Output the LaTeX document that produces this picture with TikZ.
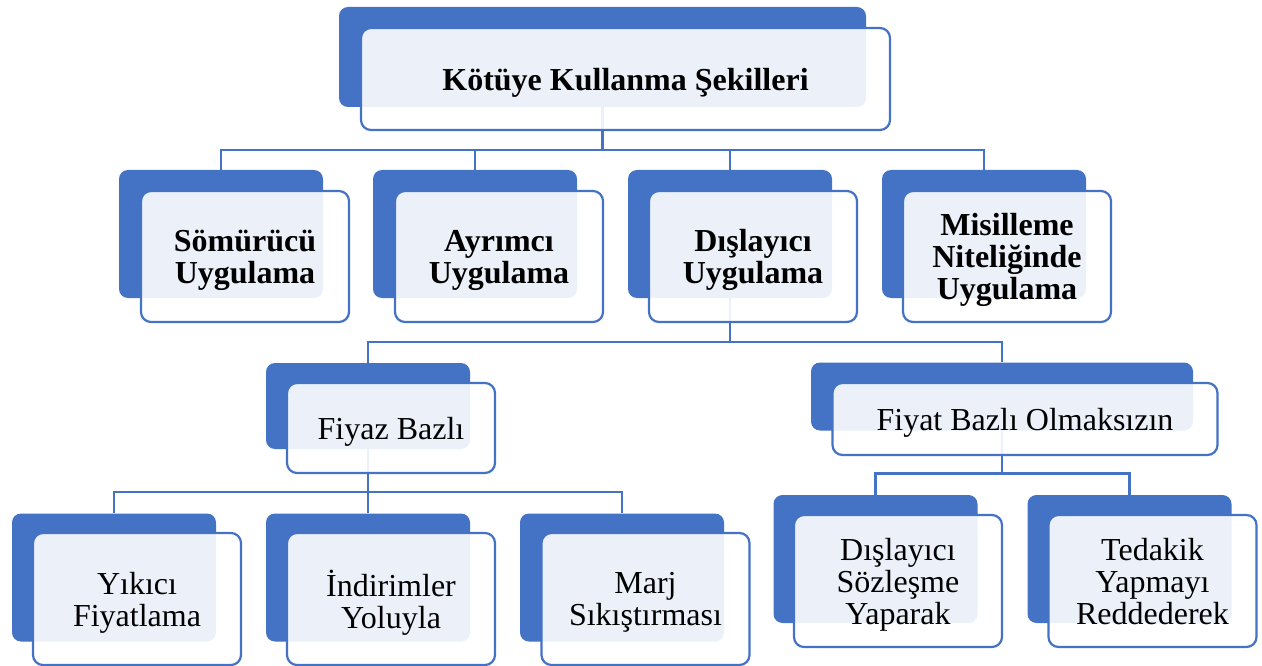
\documentclass[tikz,border=0pt]{standalone}
\usepackage{fontspec}
\setmainfont{Liberation Serif}
\definecolor{boxblue}{HTML}{4472C4}
\tikzset{
  backbox/.style={fill=boxblue, rounded corners=9pt, minimum width=204pt, minimum height=128pt, inner sep=0pt},
  frontbox/.style={draw=boxblue, line width=2.2pt, fill=white, fill opacity=0.9, text opacity=1, rounded corners=10pt, minimum width=208pt, minimum height=131pt, inner sep=0pt, text depth=0pt, align=center, font=\fontsize{32}{32}\selectfont},
  headtext/.style={font=\fontsize{32}{32}\selectfont\bfseries},
  link/.style={draw=boxblue, line width=2.5pt},
}

\begin{document}
\begin{tikzpicture}[x=1pt,y=-1pt]
\useasboundingbox (0,0) rectangle (1262,666);
% back boxes
\node[backbox, minimum width=527pt, minimum height=100pt] (kotuye) at (602.5,57) {};
\node[backbox] (somurucu) at (221,234) {};
\node[backbox] (ayrimci) at (475,234) {};
\node[backbox] (dislayici) at (730,234) {};
\node[backbox] (misilleme) at (984,234) {};
\node[backbox, minimum height=86pt] (fiyaz) at (368,406) {};
\node[backbox, minimum width=382pt, minimum height=68pt] (olmaksizin) at (1002,396.5) {};
\node[backbox] (yikici) at (114,577.5) {};
\node[backbox] (indirim) at (368,577.5) {};
\node[backbox] (marj) at (622,577.5) {};
\node[backbox] (sozlesme) at (875.5,559) {};
\node[backbox] (tedakik) at (1129.5,559) {};
% connectors
\draw[link] (kotuye.south) -- ++(0,43) -| (somurucu.north);
\draw[link] (kotuye.south) -- ++(0,43) -| (ayrimci.north);
\draw[link] (kotuye.south) -- ++(0,43) -| (dislayici.north);
\draw[link] (kotuye.south) -- ++(0,43) -| (misilleme.north);
\draw[link] (dislayici.south) -- ++(0,44) -| (fiyaz.north);
\draw[link] (dislayici.south) -- ++(0,44) -| (olmaksizin.north);
\draw[link] (fiyaz.south) -- ++(0,43) -| (yikici.north);
\draw[link] (fiyaz.south) -- ++(0,43) -| (indirim.north);
\draw[link] (fiyaz.south) -- ++(0,43) -| (marj.north);
\draw[link] (olmaksizin.south) -- ++(0,43) -| (sozlesme.north);
\draw[link] (olmaksizin.south) -- ++(0,43) -| (tedakik.north);
% front boxes
\node[frontbox, headtext, minimum width=529pt, minimum height=102pt] (kotuyeF) at (625.5,79) {Kötüye Kullanma Şekilleri};
\node[frontbox, headtext] (somurucuF) at (245,256.5) {Sömürücü\\Uygulama};
\node[frontbox, headtext] (ayrimciF) at (499,256.5) {Ayrımcı\\Uygulama};
\node[frontbox, headtext] (dislayiciF) at (753,256.5) {Dışlayıcı\\Uygulama};
\node[frontbox, headtext] (misillemeF) at (1007,256.5) {Misilleme\\Niteliğinde\\Uygulama};
\node[frontbox, minimum height=90pt] (fiyazF) at (391,428) {Fiyaz Bazlı};
\node[frontbox, minimum width=385pt, minimum height=72pt] (olmaksizinF) at (1025,419) {Fiyat Bazlı Olmaksızın};
\node[frontbox, minimum height=132pt] (yikiciF) at (137,599) {Yıkıcı\\Fiyatlama};
\node[frontbox, minimum height=132pt] (indirimF) at (391,599) {İndirimler\\Yoluyla};
\node[frontbox, minimum height=132pt] (marjF) at (645.5,599) {Marj\\Sıkıştırması};
\node[frontbox, minimum height=132pt] (sozlesmeF) at (898,581) {Dışlayıcı\\Sözleşme\\Yaparak};
\node[frontbox, minimum height=132pt] (tedakikF) at (1152.5,581) {Tedakik\\Yapmayı\\Reddederek};
\end{tikzpicture}
\end{document}
